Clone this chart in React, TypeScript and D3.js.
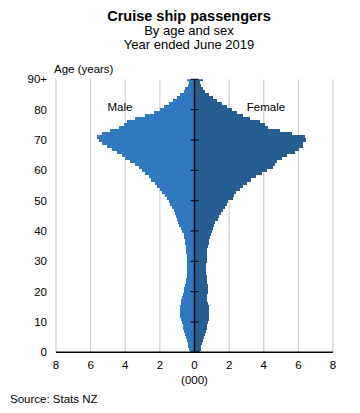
import React from "react";
import * as d3 from "d3";

const ages: number[] = d3.range(0, 91);
const ageTicks = [0, 10, 20, 30, 40, 50, 60, 70, 80, 90];
const ageTickLabels = ["0", "10", "20", "30", "40", "50", "60", "70", "80", "90+"];
const xTicks = [-8, -6, -4, -2, 0, 2, 4, 6, 8];

// thousands, ages 0..90+
const male: number[] = [
  0.25, 0.3, 0.36, 0.4, 0.46, 0.5, 0.55, 0.6, 0.64, 0.68,
  0.73, 0.78, 0.81, 0.83, 0.84, 0.83, 0.8, 0.76, 0.72, 0.66,
  0.62, 0.58, 0.55, 0.5, 0.48, 0.46, 0.45, 0.44, 0.44, 0.43,
  0.44, 0.44, 0.46, 0.47, 0.48, 0.5, 0.52, 0.54, 0.58, 0.63,
  0.72, 0.8, 0.88, 0.95, 1.01, 1.06, 1.12, 1.2, 1.3, 1.4,
  1.5, 1.6, 1.72, 1.85, 1.98, 2.15, 2.3, 2.5, 2.65, 2.84,
  3.05, 3.2, 3.42, 3.71, 3.99, 4.18, 4.47, 4.76, 5.05, 5.34,
  5.53, 5.63, 5.34, 4.86, 4.38, 4.09, 3.9, 3.42, 2.84, 2.36,
  1.98, 1.79, 1.5, 1.25, 1.01, 0.82, 0.63, 0.52, 0.4, 0.29,
  0.44,
];
const female: number[] = [
  0.3, 0.35, 0.4, 0.45, 0.5, 0.55, 0.6, 0.65, 0.7, 0.75,
  0.8, 0.83, 0.86, 0.86, 0.84, 0.81, 0.78, 0.74, 0.71, 0.74,
  0.76, 0.8, 0.78, 0.74, 0.72, 0.7, 0.68, 0.67, 0.67, 0.68,
  0.7, 0.71, 0.72, 0.74, 0.75, 0.78, 0.82, 0.86, 0.92, 0.96,
  1.0, 1.08, 1.15, 1.2, 1.33, 1.4, 1.52, 1.65, 1.77, 1.9,
  1.96, 2.2, 2.3, 2.4, 2.6, 2.83, 3.05, 3.25, 3.55, 3.9,
  4.2, 4.55, 4.65, 4.75, 5.04, 5.32, 5.8, 6.05, 6.28, 6.25,
  6.44, 6.38, 5.61, 4.94, 4.27, 4.07, 3.79, 3.21, 2.83, 2.44,
  2.15, 1.87, 1.58, 1.29, 1.06, 0.81, 0.62, 0.48, 0.36, 0.29,
  0.48,
];

const W = 360;
const H = 413;
const font = "Arial, 'Liberation Sans', sans-serif";
const maleColor = "#3079c0";
const femaleColor = "#265e92";

export default function App() {
  const x = d3.scaleLinear().domain([-8, 8]).range([56, 333]);
  const y = d3.scaleLinear().domain([0, 90]).range([352.3, 79.3]);
  const band = Math.abs(y(1) - y(0));
  const top = y(90);
  const bottom = y(0);

  return (
    <svg
      width={W}
      height={H}
      style={{ position: "absolute", left: 0, top: 0, background: "#fff" }}
      fontFamily={font}
    >
      <defs>
        <clipPath id="plotClip">
          <rect x={x(-8)} y={top} width={x(8) - x(-8)} height={bottom - top} />
        </clipPath>
      </defs>
      <text x={189} y={20.5} textAnchor="middle" fontSize={14.5} fontWeight="bold" fill="#000">
        Cruise ship passengers
      </text>
      <text x={189} y={35} textAnchor="middle" fontSize={13} fill="#000">
        By age and sex
      </text>
      <text x={189} y={48.5} textAnchor="middle" fontSize={13} fill="#000">
        Year ended June 2019
      </text>
      <text x={54} y={72.5} fontSize={11.5} fill="#000">
        Age (years)
      </text>

      {xTicks
        .filter((t) => t !== 0)
        .map((t) => (
          <line key={"g" + t} x1={x(t)} x2={x(t)} y1={top} y2={bottom} stroke="#c8c8c8" strokeWidth={1} />
        ))}

      <g clipPath="url(#plotClip)" shapeRendering="crispEdges">
        {ages.map((a, i) => (
          <rect
            key={"m" + a}
            x={x(-male[i])}
            y={y(a) - band / 2}
            width={x(0) - x(-male[i])}
            height={band + 0.6}
            fill={maleColor}
          />
        ))}
        {ages.map((a, i) => (
          <rect
            key={"f" + a}
            x={x(0)}
            y={y(a) - band / 2}
            width={x(female[i]) - x(0)}
            height={band + 0.6}
            fill={femaleColor}
          />
        ))}
      </g>

      <line x1={x(0)} x2={x(0)} y1={top} y2={bottom} stroke="#000" strokeWidth={1.5} />
      {ageTicks.map((t) => (
        <line key={"t" + t} x1={x(0) - 4} x2={x(0) + 4} y1={y(t)} y2={y(t)} stroke="#000" strokeWidth={1} />
      ))}
      <line x1={x(-8)} x2={x(8)} y1={bottom} y2={bottom} stroke="#000" strokeWidth={1.5} />

      {ageTicks.map((t, i) => (
        <text key={"yl" + t} x={47} y={y(t) + 4} textAnchor="end" fontSize={11.5} fill="#000">
          {ageTickLabels[i]}
        </text>
      ))}
      {xTicks.map((t) => (
        <text key={"xl" + t} x={x(t)} y={368.5} textAnchor="middle" fontSize={11.5} fill="#000">
          {Math.abs(t)}
        </text>
      ))}
      <text x={x(0)} y={384} textAnchor="middle" fontSize={11.5} fill="#000">
        (000)
      </text>
      <text x={120} y={110.5} textAnchor="middle" fontSize={11.5} fill="#000">
        Male
      </text>
      <text x={266} y={110.5} textAnchor="middle" fontSize={11.5} fill="#000">
        Female
      </text>
      <text x={10} y={402.5} fontSize={11.5} fill="#000">
        Source: Stats NZ
      </text>
    </svg>
  );
}
